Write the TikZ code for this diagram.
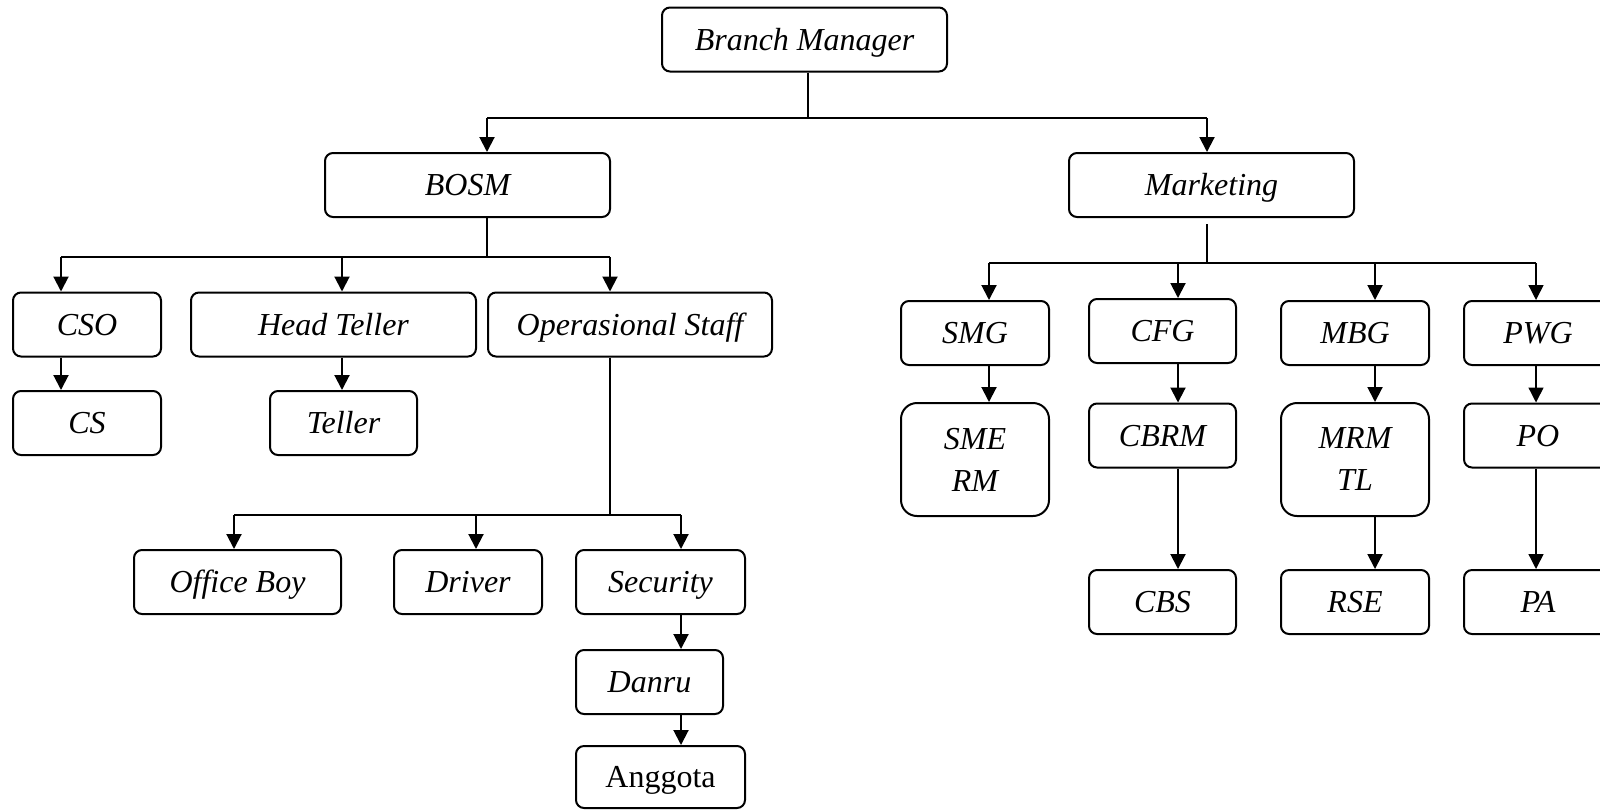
\documentclass[tikz,border=0pt]{standalone}
\usepackage{fontspec}
\setmainfont{Liberation Serif}
\usetikzlibrary{arrows.meta}
\begin{document}
\begin{tikzpicture}[x=0.5pt,y=-0.5pt,
  basebox/.style={draw, line width=1pt, rounded corners=4pt, inner sep=0pt,
    font=\itshape\fontsize{16}{21}\selectfont, align=center,
    minimum width=74pt, minimum height=32pt},
  box/.style={basebox, text height=10.5pt, text depth=0pt},
  tallbox/.style={basebox, rounded corners=8pt, minimum height=56.5pt},
  thick line/.style={line width=1pt},
  thin line/.style={line width=0.7pt},
  arr/.style={line width=1pt, -{Triangle[length=7.5pt,width=7.5pt]}},
  thinarr/.style={line width=0.7pt, -{Triangle[length=7.5pt,width=7.5pt]}}]
\useasboundingbox (0,0) rectangle (1600,810);

% nodes
\node[box, minimum width=142.5pt] (bm) at (804.5,39.5) {Branch Manager};
\node[box, minimum width=142.5pt] (bosm) at (467.5,185) {BOSM};
\node[box, minimum width=142.5pt] (mkt) at (1211.5,185) {Marketing};

\node[box] (cso) at (87,324.5) {CSO};
\node[box, minimum width=142.5pt] (ht) at (333.5,324.5) {Head Teller};
\node[box, minimum width=142pt] (ops) at (630,324.5) {Operasional Staff};
\node[box] (cs) at (87,423) {CS};
\node[box, minimum width=73.5pt] (tel) at (343.5,423) {Teller};

\node[box, minimum width=103.5pt] (ob) at (237.5,582) {Office Boy};
\node[box] (drv) at (468,582) {Driver};
\node[box, minimum width=84.5pt] (sec) at (660.5,582) {Security};
\node[box, minimum width=73.5pt] (dan) at (649.5,682) {Danru};
\node[box, minimum width=84.5pt, minimum height=31pt, font=\fontsize{16}{21}\selectfont] (ang) at (660.5,777) {Anggota};

\node[box] (smg) at (975,333) {SMG};
\node[box, minimum width=73.5pt] (cfg) at (1162.5,331) {CFG};
\node[box] (mbg) at (1355,333) {MBG};
\node[box] (pwg) at (1538,333) {PWG};

\node[tallbox] (sme) at (975,459.5) {SME\\RM};
\node[box, minimum width=73.5pt] (cbrm) at (1162.5,435.5) {CBRM};
\node[tallbox] (mrm) at (1355,459.5) {MRM\\TL};
\node[box] (po) at (1538,435.5) {PO};
\node[box, minimum width=73.5pt] (cbs) at (1162.5,602) {CBS};
\node[box] (rse) at (1355,602) {RSE};
\node[box] (pa) at (1538,602) {PA};

% level 1 bus
\coordinate (j0) at (808,118);
\coordinate (j0a) at (487,118);
\coordinate (j0b) at (1207,118);
\draw[thin line] (bm.south -| j0) -- (j0);
\draw[thick line] (j0a) -- (j0b);
\draw[arr] (j0a) -- (j0a |- bosm.north);
\draw[arr] (j0b) -- (j0b |- mkt.north);

% BOSM bus
\coordinate (j1) at (487,257);
\coordinate (j1a) at (61,257);
\coordinate (j1b) at (342,257);
\coordinate (j1c) at (610,257);
\draw[thin line] (bosm.south -| j1) -- (j1);
\draw[thick line] (j1a) -- (j1c);
\draw[arr] (j1a) -- (j1a |- cso.north);
\draw[arr] (j1b) -- (j1b |- ht.north);
\draw[arr] (j1c) -- (j1c |- ops.north);
\draw[arr] (cso.south -| j1a) -- (cs.north -| j1a);
\draw[arr] (ht.south -| j1b) -- (tel.north -| j1b);

% Operasional bus
\coordinate (j2) at (610,515);
\coordinate (j2a) at (234,515);
\coordinate (j2b) at (476,515);
\coordinate (j2c) at (681,515);
\draw[thick line] (ops.south -| j2) -- (j2);
\draw[thick line] (j2a) -- (j2c);
\draw[arr] (j2a) -- (j2a |- ob.north);
\draw[arr] (j2b) -- (j2b |- drv.north);
\draw[arr] (j2c) -- (j2c |- sec.north);
\draw[arr] (sec.south -| j2c) -- (dan.north -| j2c);
\draw[arr] (dan.south -| j2c) -- (ang.north -| j2c);

% Marketing bus
\coordinate (j3) at (1207,263);
\coordinate (j3s) at (1207,224);
\coordinate (j3a) at (989,263);
\coordinate (j3b) at (1178,263);
\coordinate (j3c) at (1375,263);
\coordinate (j3d) at (1536,263);
\draw[thin line] (j3s) -- (j3);
\draw[thick line] (j3a) -- (j3d);
\draw[arr] (j3a) -- (j3a |- smg.north);
\draw[arr] (j3b) -- (j3b |- cfg.north);
\draw[arr] (j3c) -- (j3c |- mbg.north);
\draw[thinarr] (j3d) -- (j3d |- pwg.north);

\draw[arr] (smg.south -| j3a) -- (sme.north -| j3a);
\draw[arr] (cfg.south -| j3b) -- (cbrm.north -| j3b);
\draw[arr] (mbg.south -| j3c) -- (mrm.north -| j3c);
\draw[thinarr] (pwg.south -| j3d) -- (po.north -| j3d);

\draw[arr] (cbrm.south -| j3b) -- (cbs.north -| j3b);
\draw[arr] (mrm.south -| j3c) -- (rse.north -| j3c);
\draw[thinarr] (po.south -| j3d) -- (pa.north -| j3d);
\end{tikzpicture}
\end{document}
